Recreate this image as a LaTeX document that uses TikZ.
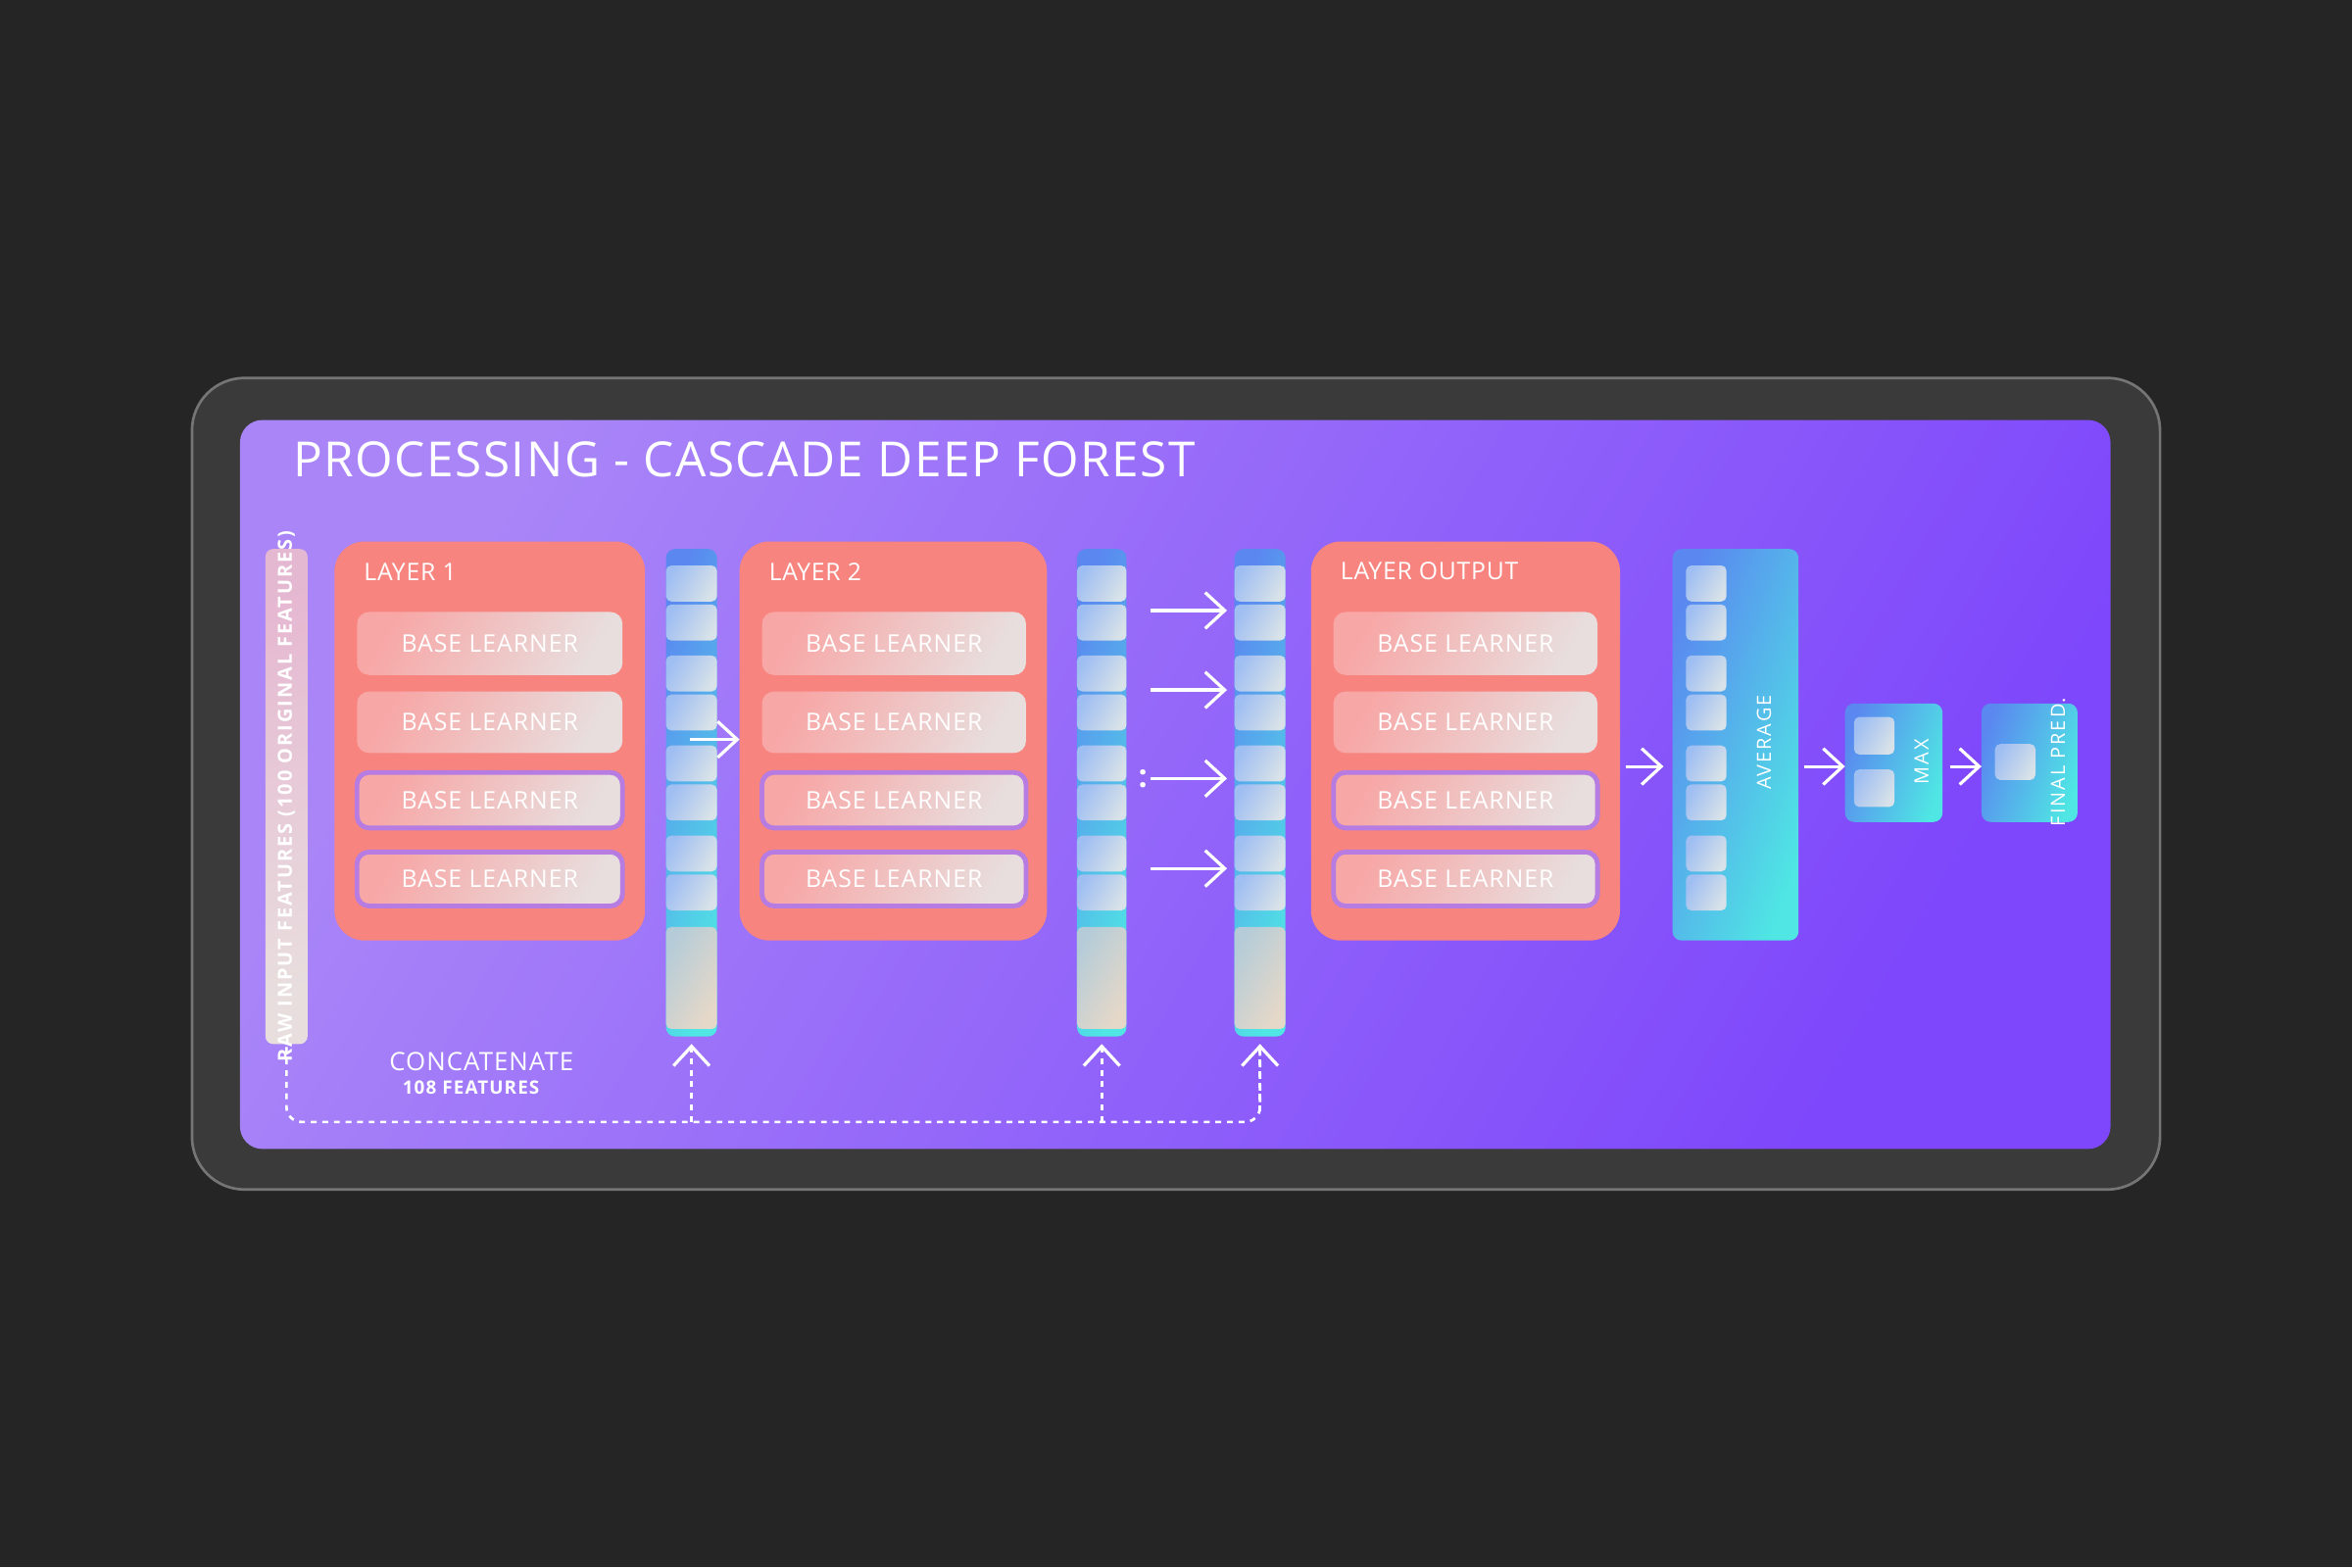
\documentclass[tikz,border=0pt]{standalone}
\usepackage{fontspec}
\setmainfont{Open Sans}
\usetikzlibrary{arrows.meta}
\definecolor{bgd}{HTML}{252525}
\definecolor{frame}{HTML}{3A3A3A}
\definecolor{pA}{HTML}{A985F8}
\definecolor{pB}{HTML}{7E47FB}
\definecolor{lay}{HTML}{F8847F}
\definecolor{blA}{HTML}{F7A7A6}
\definecolor{blB}{HTML}{E8DEDE}
\definecolor{cA}{HTML}{5A88F0}
\definecolor{cB}{HTML}{4FE6E4}
\definecolor{ceA}{HTML}{9FBEF2}
\definecolor{ceB}{HTML}{D8E2E8}
\definecolor{bgA}{HTML}{B5CCD8}
\definecolor{bgB}{HTML}{E6D8C8}
\definecolor{bord}{HTML}{B67CE2}
\newcommand{\bx}[6]{\node[#6, minimum width={(#4-#2)*0.1mm}, minimum height={(#5-#3)*0.1mm}] (#1) at ({(#2+#4)/2},{(#3+#5)/2}) {};}
\newcommand{\fs}[1]{\fontsize{#1}{#1}\selectfont}
\begin{document}
\begin{tikzpicture}[x=0.1mm,y=-0.1mm,
  box/.style={inner sep=0,outer sep=0},
  layer/.style={box,fill=lay,rounded corners=2mm},
  bl/.style={box,rounded corners=0.8mm,left color=blA,right color=blB,shading angle=60},
  blb/.style={bl,draw=bord,line width=0.9pt},
  col/.style={box,rounded corners=0.6mm,left color=cA,right color=cB,shading angle=70},
  cell/.style={box,rounded corners=0.35mm,left color=ceA,right color=ceB,shading angle=60},
  big/.style={box,rounded corners=0.35mm,left color=bgA,right color=bgB,shading angle=60},
  wt/.style={text=white,inner sep=0},
  arr/.style={white,line width=0.6pt,-{Straight Barb[length=1.3mm,width=2.4mm]}},
  dsh/.style={white,line width=0.5pt,dash pattern=on 1.1pt off 1.1pt,rounded corners=1mm}]
\useasboundingbox (0,0) rectangle (1568,1045);
\fill[bgd] (0,0) rectangle (1568,1045);
\bx{frame}{128}{252}{1440}{793}{box,fill=frame,draw=white!30!frame,line width=0.5pt,rounded corners=3.5mm}
\bx{panel}{160}{280}{1407}{766}{box,rounded corners=1.5mm,left color=pA,right color=pB,shading angle=60}
\node[wt,anchor=west] (title) at (195,306) {\fs{9.2pt}\addfontfeatures{LetterSpace=3}PROCESSING - CASCADE DEEP FOREST};
% raw input
\bx{raw}{177}{366}{205}{696}{box,rounded corners=0.5mm,left color=white!60!pink!80!violet,right color=blB,shading angle=20}
\node[wt,rotate=90] (rawt) at (191,531) {\fs{3.7pt}\bfseries\addfontfeatures{LetterSpace=10}RAW INPUT FEATURES (100 ORIGINAL FEATURES)};
% layers
\foreach \n/\xa/\xb/\xc/\xd/\t in {L1/223/430/238/415/LAYER 1,L2/493/698/508/684/LAYER 2,L3/874/1080/889/1065/LAYER OUTPUT}{
  \bx{\n}{\xa}{361}{\xb}{627}{layer}
  \node[wt,anchor=west] (\n t) at (\xa+19,381) {\fs{4.6pt}\addfontfeatures{LetterSpace=3}\t};
  \bx{\n a}{\xc}{408}{\xd}{450}{bl}
  \bx{\n b}{\xc}{461}{\xd}{502}{bl}
  \bx{\n c}{\xc+2}{515}{\xd-2}{552}{blb}
  \bx{\n d}{\xc+2}{568}{\xd-2}{604}{blb}
  \foreach \k in {a,b,c,d}{\node[wt] (\n\k t) at (\n\k) {\fs{4.6pt}\addfontfeatures{LetterSpace=4}BASE LEARNER};}
}
% columns
\foreach \n/\xa/\xb in {C1/444/478,C2/718/751,C3/823/857}{
  \bx{\n}{\xa}{366}{\xb}{691}{col}
  \foreach \ya [count=\i] in {377,403,437,463,497,523,557,583}{
    \bx{\n c\i}{\xa+3}{\ya}{\xb-3}{\ya+24}{cell}}
  \bx{\n g}{\xa+3}{618}{\xb-3}{686}{big}
}
% average
\bx{avg}{1115}{366}{1199}{627}{col}
\foreach \ya [count=\i] in {377,403,437,463,497,523,557,583}{\bx{avgc\i}{1124}{\ya}{1151}{\ya+24}{cell}}
\node[wt,rotate=90] (avgt) at (1176,495) {\fs{3.7pt}\addfontfeatures{LetterSpace=10}AVERAGE};
\bx{max}{1230}{469}{1295}{548}{col}
\bx{maxc1}{1236}{478}{1263}{503}{cell}
\bx{maxc2}{1236}{513}{1263}{538}{cell}
\node[wt,rotate=90] (maxt) at (1281,508) {\fs{3.7pt}\addfontfeatures{LetterSpace=10}MAX};
\bx{fin}{1321}{469}{1385}{548}{col}
\bx{finc}{1330}{496}{1357}{520}{cell}
\node[wt,rotate=90] (fint) at (1372,508) {\fs{3.7pt}\addfontfeatures{LetterSpace=10}FINAL PRED.};
% arrows
\coordinate (a1) at (460,493);
\draw[arr] (a1) -- (L2.west |- a1);
\foreach \y [count=\i] in {407,460,519,579}{
  \coordinate (s\i) at (767,\y); \coordinate (e\i) at (818,\y);
  \draw[arr] (s\i) -- (e\i);}
\node[wt] (dots) at (762,519) {\fs{6pt}\bfseries :};
\coordinate (o1) at (1084,511);
\draw[arr] (o1) -- (1109,511) coordinate (o1e);
\coordinate (o2) at (1203,511);
\draw[arr] (o2) -- (max.west |- o2);
\coordinate (o3) at (1300,511);
\draw[arr] (o3) -- (fin.west |- o3);
% concatenate
\node[wt] (cc) at (321,708) {\fs{4.8pt}\addfontfeatures{LetterSpace=4}CONCATENATE};
\node[wt] (cf) at (314,725) {\fs{3.5pt}\bfseries\addfontfeatures{LetterSpace=6}108 FEATURES};
\coordinate (b) at (840,748);
\draw[dsh] ([yshift=-0.2mm]raw.south) |- (b) -- ([yshift=-0.5mm]C3.south);
\draw[arr,dash pattern=on 1.1pt off 1.1pt] ([yshift=-5mm]C3.south) -- ([yshift=-0.5mm]C3.south);
\draw[dsh,arr,dash pattern=on 1.1pt off 1.1pt] (b -| C1.south) -- ([yshift=-0.5mm]C1.south);
\draw[dsh,arr,dash pattern=on 1.1pt off 1.1pt] (b -| C2.south) -- ([yshift=-0.5mm]C2.south);
\end{tikzpicture}
\end{document}
